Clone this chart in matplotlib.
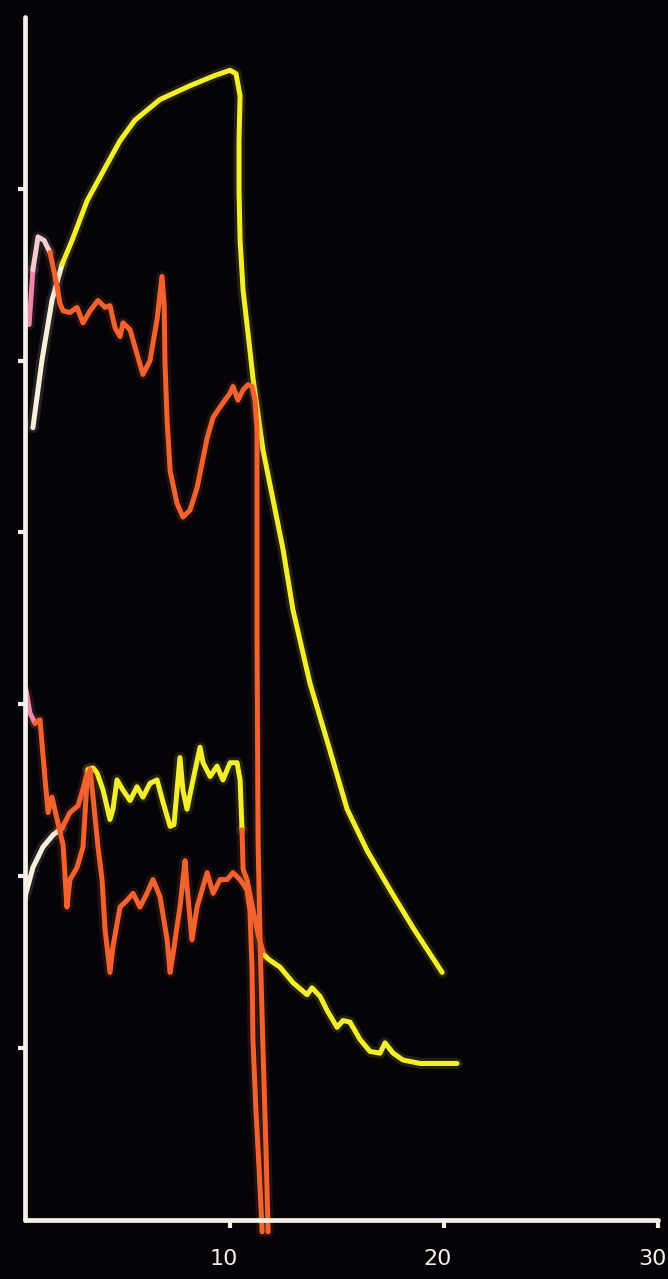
import numpy as np
import matplotlib.pyplot as plt
import matplotlib.transforms as mtransforms

# trace A: big yellow curve (rises, sharp drop near 10.4, then decays)
a_x = [0.79, 1.21, 1.68, 2.15, 2.62, 3.32, 4.02, 4.86, 5.56, 6.73, 8.13, 9.30, 10.00,
       10.28, 10.47, 10.42, 10.42, 10.47, 10.61, 10.93, 11.07, 11.54, 12.01, 12.48,
       12.94, 13.74, 14.53, 15.47, 16.40, 17.48, 18.55, 19.91]
a_y = [4.61, 5.00, 5.35, 5.56, 5.70, 5.93, 6.09, 6.28, 6.40, 6.52, 6.60, 6.66, 6.69,
       6.67, 6.54, 6.28, 5.99, 5.70, 5.41, 5.06, 4.90, 4.48, 4.19, 3.90,
       3.55, 3.12, 2.79, 2.39, 2.15, 1.92, 1.70, 1.44]

# trace B: upper orange curve
b_x = [0.61, 0.79, 1.03, 1.31, 1.59, 1.92, 2.06, 2.20, 2.52, 2.85, 3.13, 3.46, 3.83,
       4.16, 4.39, 4.63, 4.86, 5.00, 5.33, 5.65, 5.93, 6.26, 6.59, 6.82, 6.92, 6.96,
       7.06, 7.20, 7.52, 7.80, 8.13, 8.46, 8.93, 9.21, 9.53, 10.00, 10.14, 10.37,
       10.61, 10.84, 11.03, 11.17, 11.26, 11.26, 11.31, 11.40, 11.54, 11.68, 11.78]
b_y = [5.21, 5.53, 5.72, 5.70, 5.63, 5.43, 5.33, 5.29, 5.28, 5.31, 5.22, 5.29, 5.35,
       5.31, 5.32, 5.19, 5.14, 5.22, 5.18, 5.04, 4.92, 5.00, 5.24, 5.49, 5.33, 4.99,
       4.65, 4.36, 4.17, 4.09, 4.13, 4.26, 4.55, 4.67, 4.73, 4.81, 4.85, 4.77,
       4.83, 4.86, 4.85, 4.77, 4.60, 3.37, 2.21, 1.63, 0.99, 0.41, -0.07]

# trace C: lower yellow curve
c_x = [0.42, 0.79, 1.26, 1.73, 2.15, 2.52, 2.90, 3.18, 3.36, 3.60, 3.79, 4.07, 4.39,
       4.53, 4.72, 5.00, 5.33, 5.65, 5.93, 6.26, 6.59, 6.87, 7.20, 7.38, 7.66, 7.80,
       7.99, 8.27, 8.60, 8.74, 9.07, 9.39, 9.67, 10.00, 10.33, 10.47, 10.56, 10.61,
       10.79, 11.03, 11.31, 11.59, 11.87, 12.34, 12.94, 13.60, 13.83, 14.21, 14.53,
       15.00, 15.28, 15.61, 16.07, 16.54, 17.01, 17.24, 17.62, 18.08, 18.88, 19.81, 20.61]
c_y = [1.88, 2.05, 2.17, 2.24, 2.28, 2.37, 2.41, 2.53, 2.62, 2.63, 2.60, 2.50, 2.33,
       2.39, 2.56, 2.50, 2.44, 2.52, 2.46, 2.54, 2.56, 2.43, 2.29, 2.30, 2.69, 2.50,
       2.39, 2.56, 2.75, 2.66, 2.58, 2.64, 2.56, 2.66, 2.66, 2.56, 2.27, 2.04,
       1.98, 1.83, 1.66, 1.54, 1.51, 1.47, 1.38, 1.31, 1.35, 1.30, 1.22,
       1.12, 1.16, 1.15, 1.05, 0.98, 0.97, 1.03, 0.97, 0.93, 0.91, 0.91, 0.91]

# trace D: lower orange curve
d_x = [0.47, 0.65, 0.89, 1.12, 1.36, 1.50, 1.68, 1.92, 2.20, 2.38, 2.52, 2.85, 3.13,
       3.32, 3.46, 3.60, 3.83, 4.02, 4.16, 4.39, 4.53, 4.86, 5.19, 5.47, 5.79, 6.12,
       6.40, 6.73, 7.06, 7.20, 7.34, 7.66, 7.90, 7.99, 8.22, 8.46, 8.74, 8.93, 9.21,
       9.53, 9.86, 10.14, 10.47, 10.79, 10.93, 11.03, 11.07, 11.21, 11.36, 11.50]
d_y = [3.08, 2.95, 2.89, 2.91, 2.56, 2.37, 2.46, 2.33, 2.18, 1.82, 1.98, 2.05, 2.17,
       2.56, 2.62, 2.46, 2.17, 1.98, 1.69, 1.44, 1.59, 1.82, 1.86, 1.90, 1.82, 1.90,
       1.98, 1.88, 1.63, 1.44, 1.55, 1.82, 2.09, 1.94, 1.63, 1.82, 1.94, 2.02, 1.90,
       1.98, 1.98, 2.02, 1.98, 1.92, 1.80, 1.45, 1.05, 0.64, 0.29, -0.07]

x_ticks = [10, 20, 30]
y_ticks = [1, 2, 3, 4, 5, 6]

BG = '#070409'
AXIS = '#f4efe8'
YELLOW = '#f3ef2c'
ORANGE = '#f2622e'
WHITE = '#f6f0dc'
PINK = '#ee86a8'


def draw(ax, x, y, pieces, z):
    # pieces: (start index, end index, colour)
    for i0, i1, col in pieces:
        xs = x[i0:i1 + 1]
        ys = y[i0:i1 + 1]
        ax.plot(xs, ys, color=col, lw=8, alpha=0.12, solid_capstyle='round', zorder=z)
        ax.plot(xs, ys, color=col, lw=3.6, solid_capstyle='round',
                solid_joinstyle='round', zorder=z + 0.1)


fig = plt.figure(figsize=(6.68, 12.79), dpi=100, facecolor=BG)
ax = fig.add_axes([25 / 668, 42 / 1279, 635 / 668, 1220 / 1279])
ax.set_facecolor(BG)
ax.set_xlim(0.42, 30.09)
ax.set_ylim(-0.1, 7.0)

draw(ax, a_x, a_y, [(0, 3, WHITE), (3, len(a_x) - 1, YELLOW)], 2)
draw(ax, c_x, c_y, [(0, 4, WHITE), (4, 8, ORANGE), (8, 36, YELLOW),
                    (36, 41, ORANGE), (41, len(c_x) - 1, YELLOW)], 3)
draw(ax, d_x, d_y, [(0, 2, PINK), (2, len(d_x) - 1, ORANGE)], 4)
draw(ax, b_x, b_y, [(0, 1, PINK), (1, 4, '#f6cdd2'), (4, len(b_x) - 1, ORANGE)], 5)

for s in ['top', 'right']:
    ax.spines[s].set_visible(False)
ax.spines['bottom'].set_position(('data', 0))
ax.spines['bottom'].set_bounds(0.42, 30.0)
ax.spines['left'].set_bounds(0, 7.0)
for s in ['left', 'bottom']:
    ax.spines[s].set_color(AXIS)
    ax.spines[s].set_linewidth(3.4)
    ax.spines[s].set_capstyle('round')
    ax.spines[s].set_zorder(6)

ax.set_xticks(x_ticks)
ax.set_xticklabels([str(t) for t in x_ticks])
ax.set_yticks(y_ticks)
ax.set_yticklabels([])
ax.tick_params(axis='x', length=6, width=3, colors=AXIS, pad=15, labelsize=16)
ax.tick_params(axis='y', length=5, width=3, colors=AXIS)

# labels sit a little left of their ticks in the original
shift = mtransforms.ScaledTranslation(-6 / 100, 0, fig.dpi_scale_trans)
for lab in ax.get_xticklabels():
    lab.set_transform(lab.get_transform() + shift)

fig.savefig('out.png', dpi=100, facecolor=BG)
